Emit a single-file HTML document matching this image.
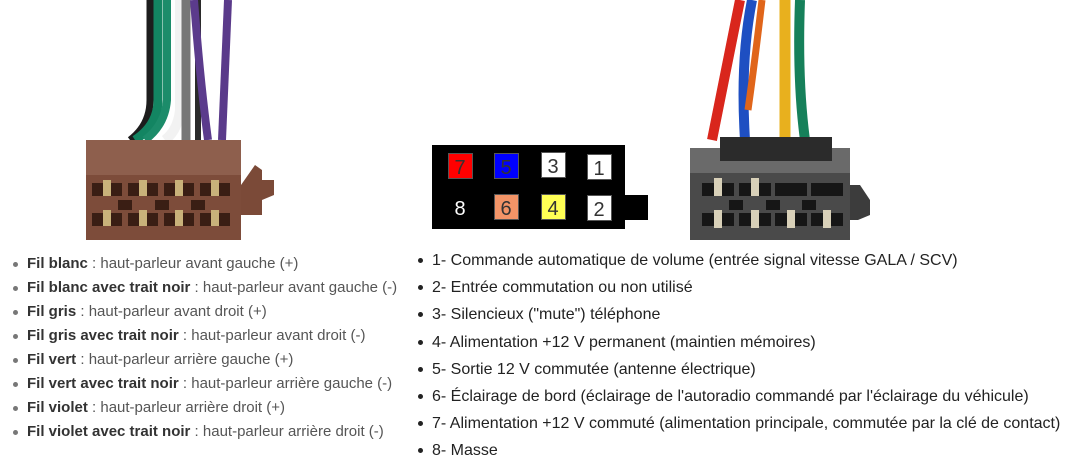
<!DOCTYPE html>
<html><head><meta charset="utf-8"><style>
body{margin:0;width:1065px;height:475px;background:#fff;overflow:hidden;position:relative;font-family:"Liberation Sans",Arial,sans-serif}
svg{position:absolute;left:0;top:0}
ul{position:absolute;margin:0;padding:0;list-style:none}
li{position:relative;white-space:nowrap}
li:before{content:"";position:absolute;width:5px;height:5px;border-radius:50%;}
#l{left:27px;top:252px;font-size:15px;color:#555}
#l li{height:24px;line-height:24px}
#l li:before{left:-14px;top:10px;background:#777}
#l b{color:#333}
#r{left:432px;top:249px;font-size:16px;color:#222}
#r li{height:27.2px;line-height:24px}
#r li:before{left:-14px;top:9px;background:#222}
</style></head><body>
<svg width="1065" height="475">
<g fill="none" stroke-linecap="butt">
<path d="M150 0 V100 Q150 125 130 140" stroke="#1d1d1d" stroke-width="7"/>
<path d="M158 0 V100 Q158 125 135 140" stroke="#138562" stroke-width="9"/>
<path d="M167 0 V100 Q165 125 145 140" stroke="#1c8c6a" stroke-width="8"/>
<path d="M180 0 V110 Q178 130 165 140" stroke="#f2f2f2" stroke-width="10"/>
<path d="M184 0 V140" stroke="#ddd" stroke-width="2"/>
<path d="M186 0 V140" stroke="#777" stroke-width="9"/>
<path d="M198 0 V140" stroke="#2a2a2a" stroke-width="6"/>
<path d="M194 0 Q200 80 208 140" stroke="#5b3b8c" stroke-width="8"/>
<path d="M228 0 L222 140" stroke="#5a3a8a" stroke-width="8"/>
</g>
<rect x="86" y="140" width="155" height="100" fill="#7d4c3a"/>
<rect x="86" y="140" width="155" height="35" fill="#8e5f4d"/>
<path d="M241 185 L255 165 L262 170 L262 180 L274 180 L274 195 L262 200 L262 215 L241 215Z" fill="#7b4a38"/>
<g fill="#3a1e14">
<rect x="92" y="183" width="30" height="13"/><rect x="128" y="183" width="30" height="13"/><rect x="164" y="183" width="30" height="13"/><rect x="200" y="183" width="30" height="13"/>
<rect x="92" y="213" width="30" height="13"/><rect x="128" y="213" width="30" height="13"/><rect x="164" y="213" width="30" height="13"/><rect x="200" y="213" width="30" height="13"/>
<rect x="118" y="200" width="14" height="10"/><rect x="155" y="200" width="14" height="10"/><rect x="191" y="200" width="14" height="10"/>
</g>
<g fill="#c9b27a">
<rect x="103" y="180" width="8" height="16"/><rect x="139" y="180" width="8" height="16"/><rect x="175" y="180" width="8" height="16"/><rect x="211" y="180" width="8" height="16"/>
<rect x="103" y="210" width="8" height="16"/><rect x="139" y="210" width="8" height="16"/><rect x="175" y="210" width="8" height="16"/><rect x="211" y="210" width="8" height="16"/>
</g>
<rect x="432" y="145" width="193" height="84" fill="#000"/>
<rect x="620" y="195" width="28" height="25" fill="#000"/>
<g stroke="#555" stroke-width="1">
<rect x="448.5" y="153.5" width="24" height="25" fill="#f00"/>
<rect x="494.5" y="153.5" width="24" height="25" fill="#00f"/>
<rect x="541.5" y="152.5" width="24" height="25" fill="#fff"/>
<rect x="587.5" y="154.5" width="24" height="25" fill="#fff"/>
<rect x="494.5" y="194.5" width="24" height="25" fill="#f39467"/>
<rect x="541.5" y="194.5" width="24" height="25" fill="#ffff55"/>
<rect x="587.5" y="195.5" width="24" height="25" fill="#fff"/>
</g>
<g font-family="Liberation Sans,Arial,sans-serif" font-size="20" text-anchor="middle" fill="#333">
<text x="460" y="174">7</text><text x="506" y="174">5</text><text x="553" y="173">3</text><text x="599" y="175">1</text>
<text x="460" y="215" fill="#fff">8</text><text x="506" y="215">6</text><text x="553" y="215">4</text><text x="599" y="216">2</text>
</g>
<g fill="none">
<path d="M740 0 Q728 60 712 140" stroke="#d9261c" stroke-width="10"/>
<path d="M752 0 Q740 60 745 140" stroke="#1e4fc2" stroke-width="10"/>
<path d="M762 0 Q755 60 748 110" stroke="#e0651a" stroke-width="7"/>
<path d="M785 0 V140" stroke="#e8b01e" stroke-width="11"/>
<path d="M800 0 Q797 80 805 140" stroke="#16805a" stroke-width="10"/>
</g>
<rect x="690" y="148" width="160" height="92" fill="#4a4a4a"/>
<rect x="690" y="148" width="160" height="25" fill="#6a6a6a"/>
<rect x="720" y="137" width="112" height="24" fill="#2b2b2b"/>
<path d="M850 185 L860 185 L870 200 L870 215 L858 220 L850 220Z" fill="#3c3c3c"/>
<g fill="#161616">
<rect x="702" y="183" width="32" height="13"/><rect x="739" y="183" width="32" height="13"/><rect x="775" y="183" width="32" height="13"/><rect x="811" y="183" width="32" height="13"/>
<rect x="702" y="213" width="32" height="13"/><rect x="739" y="213" width="32" height="13"/><rect x="775" y="213" width="32" height="13"/><rect x="811" y="213" width="32" height="13"/>
<rect x="729" y="200" width="14" height="10"/><rect x="766" y="200" width="14" height="10"/><rect x="802" y="200" width="14" height="10"/>
</g>
<g fill="#d8d0b8">
<rect x="714" y="178" width="8" height="18"/><rect x="751" y="178" width="8" height="18"/>
<rect x="714" y="210" width="8" height="18"/><rect x="751" y="210" width="8" height="18"/><rect x="787" y="210" width="8" height="18"/><rect x="823" y="210" width="8" height="18"/>
</g>
</svg>
<ul id="l">
<li><b>Fil blanc</b> : haut-parleur avant gauche (+)</li>
<li><b>Fil blanc avec trait noir</b> : haut-parleur avant gauche (-)</li>
<li><b>Fil gris</b> : haut-parleur avant droit (+)</li>
<li><b>Fil gris avec trait noir</b> : haut-parleur avant droit (-)</li>
<li><b>Fil vert</b> : haut-parleur arrière gauche (+)</li>
<li><b>Fil vert avec trait noir</b> : haut-parleur arrière gauche (-)</li>
<li><b>Fil violet</b> : haut-parleur arrière droit (+)</li>
<li><b>Fil violet avec trait noir</b> : haut-parleur arrière droit (-)</li>
</ul>
<ul id="r">
<li>1- Commande automatique de volume (entrée signal vitesse GALA / SCV)</li>
<li>2- Entrée commutation ou non utilisé</li>
<li>3- Silencieux ("mute") téléphone</li>
<li>4- Alimentation +12 V permanent (maintien mémoires)</li>
<li>5- Sortie 12 V commutée (antenne électrique)</li>
<li>6- Éclairage de bord (éclairage de l'autoradio commandé par l'éclairage du véhicule)</li>
<li>7- Alimentation +12 V commuté (alimentation principale, commutée par la clé de contact)</li>
<li>8- Masse</li>
</ul>
</body></html>
